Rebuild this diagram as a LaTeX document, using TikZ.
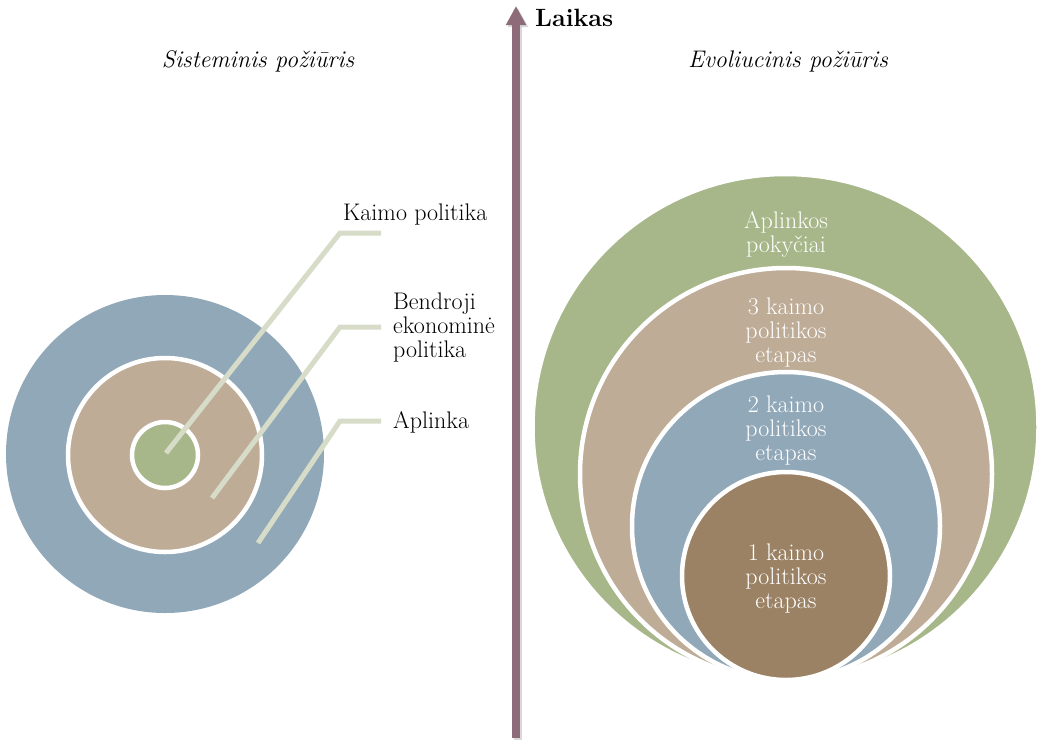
\documentclass[tikz,border=0pt]{standalone}
\usepackage{fontspec}
\usetikzlibrary{arrows.meta}
\definecolor{sage}{HTML}{A7B789}
\definecolor{sand}{HTML}{BEAC97}
\definecolor{slate}{HTML}{91A8B9}
\definecolor{umber}{HTML}{9B8264}
\definecolor{mauve}{HTML}{8E6B78}
\definecolor{leadc}{HTML}{D6DCC8}
\tikzset{
  disc/.style={circle, inner sep=0pt, draw=white, line width=4.5pt},
  leader/.style={draw=leadc, line width=5pt},
  lbl/.style={font=\fontsize{24}{24}\selectfont, inner sep=0pt, align=left},
  wlbl/.style={font=\fontsize{24}{24}\selectfont, inner sep=0pt, align=center, text=white},
  ttl/.style={font=\fontsize{24}{24}\selectfont\itshape, inner sep=0pt},
}
\begin{document}
\begin{tikzpicture}[x=1pt,y=-1pt]
\useasboundingbox (0,0) rectangle (1041,740);

% time axis with a soft shadow
\coordinate (tb) at (516,738);
\coordinate (tt) at (516,6);
\draw[black!25, line width=8pt, -{Triangle[width=19pt,length=19pt]}, opacity=0.6]
  ([xshift=2pt,yshift=-2pt]tb) -- ([xshift=2pt,yshift=-2pt]tt);
\draw[mauve, line width=8pt, -{Triangle[width=19pt,length=19pt]}] (tb) -- (tt);
\node[font=\fontsize{25}{25}\selectfont\bfseries, inner sep=0pt, anchor=base west] (laikas) at (535,26) {Laikas};

% titles
\node[ttl, anchor=base] (tl) at (258,67) {Sisteminis požiūris};
\node[ttl, anchor=base] (tr) at (788,67) {Evoliucinis požiūris};

% left: nested system circles
\node[disc, draw=none, fill=slate, minimum size=318pt] (env) at (165,454) {};
\node[disc, fill=sand, minimum size=194pt] (econ) at (165,455) {};
\node[disc, fill=sage, minimum size=66pt] (rural) at (165,455) {};

% leader lines
\coordinate (k0) at (166,453);
\coordinate (k1) at (340,233);
\coordinate (k2) at (381,233);
\coordinate (b0) at (212,498);
\coordinate (b1) at (340,327);
\coordinate (b2) at (381,327);
\coordinate (a0) at (258,543);
\coordinate (a1) at (340,421);
\coordinate (a2) at (381,421);
\draw[leader] (k0) -- (k1) -- (k2);
\draw[leader] (b0) -- (b1) -- (b2);
\draw[leader] (a0) -- (a1) -- (a2);

\node[lbl, anchor=base west] (lk) at (343,220) {Kaimo politika};
\node[lbl, anchor=west] (lb) at (393,328) {Bendroji\\ekonominė\\politika};
\node[lbl, anchor=base west] (la) at (393,428) {Aplinka};

% right: stacked evolution circles, all touching at the bottom
\node[disc, fill=sage, minimum size=506pt] (s4) at (785.5,427) {};
\node[disc, fill=sand, minimum size=412pt] (s3) at (786,474) {};
\node[disc, fill=slate, minimum size=308pt] (s2) at (786,526) {};
\node[disc, fill=umber, minimum size=208pt] (s1) at (786,576) {};

\node[wlbl] (t4) at (786,234) {Aplinkos\\pokyčiai};
\node[wlbl] (t3) at (786,333) {3 kaimo\\politikos\\etapas};
\node[wlbl] (t2) at (786,431) {2 kaimo\\politikos\\etapas};
\node[wlbl] (t1) at (786,578) {1 kaimo\\politikos\\etapas};
\end{tikzpicture}
\end{document}
